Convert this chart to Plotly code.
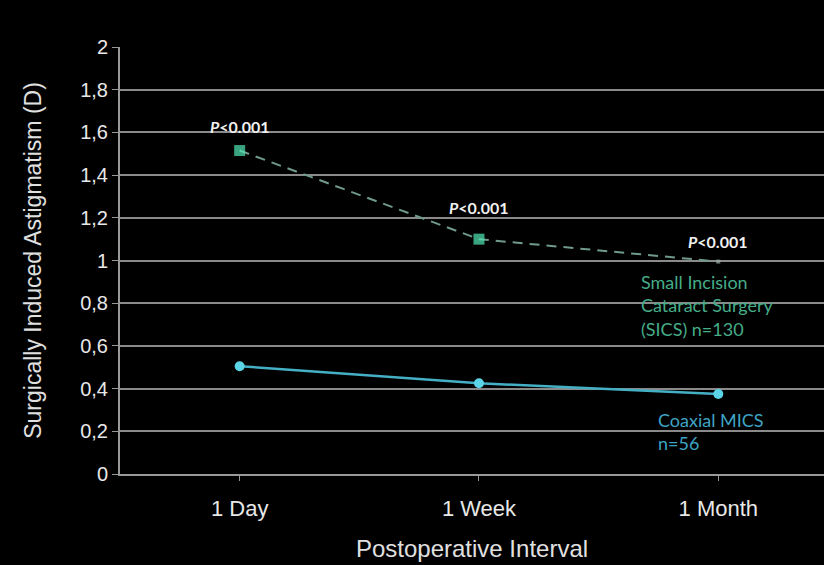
import plotly.graph_objects as go

categories = ["1 Day", "1 Week", "1 Month"]
sics_values = [1.515, 1.10, 0.995]
mics_values = [0.505, 0.425, 0.375]
p_labels = ["<b><i>P</i><0.001</b>", "<b><i>P</i><0.001</b>", "<b><i>P</i><0.001</b>"]
p_label_y = [1.63, 1.25, 1.09]
y_ticks = [0, 0.2, 0.4, 0.6, 0.8, 1.0, 1.2, 1.4, 1.6, 1.8, 2.0]
y_tick_text = ["0", "0,2", "0,4", "0,6", "0,8", "1", "1,2", "1,4", "1,6", "1,8", "2"]

xi = list(range(len(categories)))

fig = go.Figure()
fig.add_trace(go.Scatter(
    x=xi, y=sics_values, mode="lines+markers",
    line=dict(color="#6f9a8c", width=2, dash="10px,7px"),
    marker=dict(symbol="square", size=[11, 11, 4], color=["#50e8b4", "#50e8b4", "#9aa8a3"],
                line=dict(width=0)),
    showlegend=False))
fig.add_trace(go.Scatter(
    x=xi, y=mics_values, mode="lines+markers",
    line=dict(color="#45afc6", width=2.5),
    marker=dict(symbol="circle", size=10, color="#5ad4e6", line=dict(width=0)),
    showlegend=False))

for x, y, t in zip(xi, p_label_y, p_labels):
    fig.add_annotation(x=x, y=y, text=t, showarrow=False,
                       font=dict(family="Lato, Open Sans, sans-serif", size=16, color="#f0f0f0"),
                       xanchor="center", yanchor="middle")

fig.add_annotation(x=1.67, y=0.79, xanchor="left", yanchor="middle", align="left",
                   text="Small Incision<br>Cataract Surgery<br>(SICS) n=130", showarrow=False,
                   font=dict(family="Lato, Open Sans, sans-serif", size=18, color="#45ad88"))
fig.add_annotation(x=1.74, y=0.20, xanchor="left", yanchor="middle", align="left",
                   text="Coaxial MICS<br>n=56", showarrow=False,
                   font=dict(family="Lato, Open Sans, sans-serif", size=18, color="#3ea4c4"))

fig.update_layout(
    width=824, height=565,
    paper_bgcolor="#000000", plot_bgcolor="#000000",
    margin=dict(l=120, r=0, t=47, b=91),
    font=dict(family="Liberation Sans, Arial, sans-serif", color="#e0e0e0"),
    xaxis=dict(
        range=[-0.5, 2.5 - 14 / 240], tickmode="array", tickvals=xi, ticktext=categories,
        tickson="boundaries", ticks="outside", ticklen=5, tickcolor="#999999",
        showgrid=False, zeroline=False, showline=True, linecolor="#999999", linewidth=2,
        tickfont=dict(size=22, color="#e8e8e8"), ticklabelstandoff=9,
        title=dict(text="Postoperative Interval", font=dict(size=24, color="#e0e0e0"), standoff=20),
        fixedrange=True),
    yaxis=dict(
        range=[0, 2], tickmode="array", tickvals=y_ticks, ticktext=y_tick_text,
        ticks="outside", ticklen=6, tickcolor="#999999",
        showgrid=True, gridcolor="#8a8a8a", gridwidth=2,
        zeroline=False, showline=True, linecolor="#999999", linewidth=2,
        tickfont=dict(size=20, color="#e8e8e8"),
        title=dict(text="Surgically Induced Astigmatism (D)", font=dict(size=23, color="#e0e0e0"), standoff=32),
        fixedrange=True),
)

fig.write_html("out.html")
